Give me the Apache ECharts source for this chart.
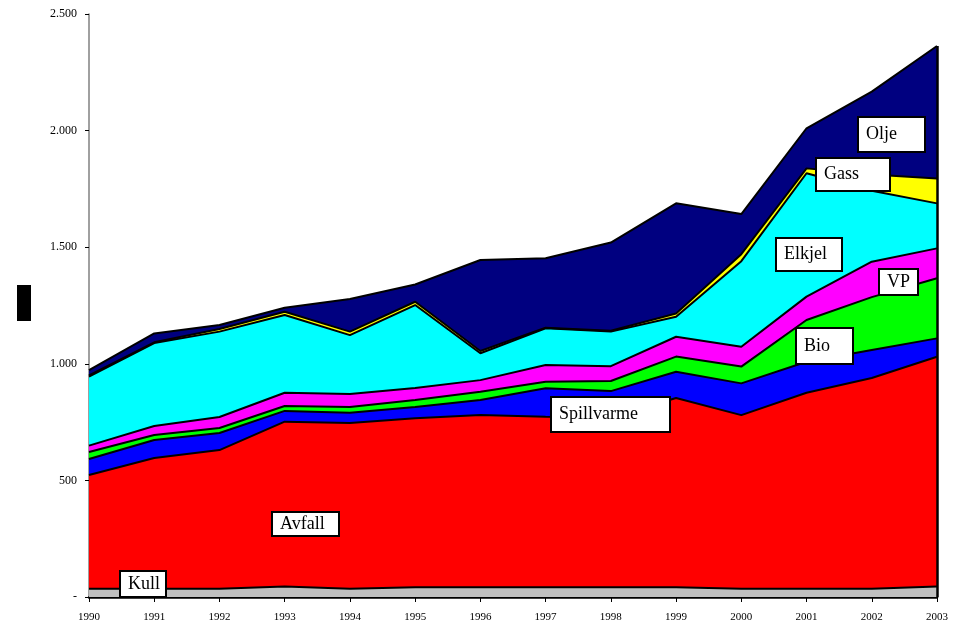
<!DOCTYPE html>
<html>
<head>
<meta charset="utf-8">
<script src="https://cdn.jsdelivr.net/npm/echarts@6/dist/echarts.min.js"></script>
<style>html,body{margin:0;padding:0;background:#fff}#c{width:954px;height:628px}</style>
</head>
<body>
<div id="c"></div>
<script>
const years = ['1990','1991','1992','1993','1994','1995','1996','1997','1998','1999','2000','2001','2002','2003'];
const yTicks = [0, 500, 1000, 1500, 2000, 2500];
const kull       = [35, 35, 35, 45, 35, 42, 42, 42, 42, 42, 35, 35, 35, 45];
const avfall     = [488, 561, 595, 707, 711, 724, 738, 731, 728, 811, 745, 841, 904, 985];
const spillvarme = [69, 77, 73, 46, 44, 49, 65, 122, 113, 113, 136, 133, 120, 79];
const bio        = [30, 22, 22, 21, 25, 30, 35, 28, 43, 65, 72, 179, 227, 258];
const vp         = [27, 38, 47, 57, 55, 51, 50, 72, 64, 85, 85, 100, 152, 128];
const elkjel     = [296, 356, 366, 333, 253, 356, 115, 157, 148, 86, 367, 529, 304, 193];
const gass       = [5, 3, 11, 14, 15, 14, 10, 3, 4, 14, 30, 21, 70, 107];
const olje       = [23, 38, 17, 17, 140, 74, 390, 298, 378, 472, 172, 172, 355, 568];

const seriesDefs = [
  ['Kull', kull, '#C0C0C0'],
  ['Avfall', avfall, '#FF0000'],
  ['Spillvarme', spillvarme, '#0000FF'],
  ['Bio', bio, '#00FF00'],
  ['VP', vp, '#FF00FF'],
  ['Elkjel', elkjel, '#00FFFF'],
  ['Gass', gass, '#FFFF00'],
  ['Olje', olje, '#000080']
];
const last = years.length - 1;
const total = seriesDefs.reduce((s, d) => s + d[1][last], 0);

const series = seriesDefs.map(([name, data, color], i) => {
  const s = {
    name, type: 'line', stack: 'all', data,
    symbol: 'none', silent: true,
    lineStyle: { color: '#000', width: 2 },
    areaStyle: { color, opacity: 1 },
    itemStyle: { color }
  };
  if (i === seriesDefs.length - 1) {
    s.markLine = {
      silent: true, symbol: 'none', label: { show: false },
      lineStyle: { color: '#000', width: 2.5, type: 'solid' },
      data: [[{ coord: [years[last], 0] }, { coord: [years[last], total] }]]
    };
  }
  return s;
});

const fmt = v => {
  if (v === 0) return '-';
  const s = String(v);
  return s.length > 3 ? s.slice(0, s.length - 3) + '.' + s.slice(-3) : s;
};

const serif = '"Liberation Serif", "DejaVu Serif", serif';
function box(text, x, y, w, h) {
  return [
    { type: 'rect', z: 100, shape: { x: x, y: y, width: w, height: h },
      style: { fill: '#fff', stroke: '#000', lineWidth: 2 } },
    { type: 'text', z: 101, x: x + 8, y: y + h / 2,
      style: { text: text, fill: '#000', fontFamily: serif, fontSize: 18, verticalAlign: 'middle', align: 'left' } }
  ];
}

const chart = echarts.init(document.getElementById('c'));
chart.setOption({
  animation: false,
  backgroundColor: '#fff',
  grid: { left: 89, right: 17, top: 14, bottom: 31, containLabel: false },
  xAxis: {
    type: 'category', data: years, boundaryGap: false,
    axisLine: { lineStyle: { color: '#000', width: 2.5 } },
    axisTick: { show: true, length: 5, alignWithLabel: true, lineStyle: { color: '#000', width: 1 } },
    axisLabel: { color: '#000', fontFamily: serif, fontSize: 11, margin: 15, interval: 0 },
    splitLine: { show: false }
  },
  yAxis: {
    type: 'value', min: yTicks[0], max: yTicks[yTicks.length - 1], interval: 500,
    axisLine: { show: true, lineStyle: { color: '#808080', width: 1.5 } },
    axisTick: { show: true, inside: false, length: 4, lineStyle: { color: '#000' } },
    axisLabel: { color: '#000', fontFamily: serif, fontSize: 12, margin: 12, formatter: fmt },
    splitLine: { show: false }
  },
  series,
  graphic: [
    { type: 'rect', shape: { x: 17, y: 285, width: 14, height: 36 }, style: { fill: '#000' } }
  ].concat(
    box('Kull', 120, 571, 46, 26),
    box('Avfall', 272, 512, 67, 24),
    box('Spillvarme', 551, 397, 119, 35),
    box('Bio', 796, 328, 57, 36),
    box('VP', 879, 269, 39, 26),
    box('Elkjel', 776, 238, 66, 33),
    box('Gass', 816, 158, 74, 33),
    box('Olje', 858, 117, 67, 35)
  )
});
</script>
</body>
</html>
